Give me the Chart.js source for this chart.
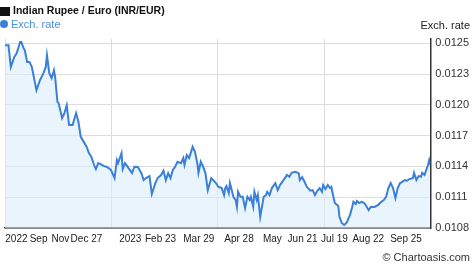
<!DOCTYPE html>
<html>
<head>
<meta charset="utf-8">
<script src="https://cdn.jsdelivr.net/npm/chart.js@4.4.1/dist/chart.umd.min.js"></script>
<style>
    html, body { margin: 0; padding: 0; background: #fff; }
    #wrap { width: 474px; height: 269px; position: relative; }
</style>
</head>
<body>
<div id="wrap"><canvas id="rateChart"></canvas></div>
<script>
// days since start of the period, and the INR/EUR rate on that day
const days = [
    0, 3, 5, 8, 10, 13, 14, 16, 17, 19,
    21, 23, 27, 30, 33, 35, 36, 38, 40, 42,
    43, 45, 46, 49, 51, 53, 55, 58, 61, 63,
    65, 70, 72, 74, 77, 78, 80, 82, 85, 87,
    89, 91, 94, 96, 97, 100, 101, 103, 106, 109,
    111, 114, 117, 119, 121, 124, 126, 129, 131, 134,
    136, 138, 140, 142, 144, 146, 148, 151, 153, 154,
    156, 158, 161, 163, 165, 166, 168, 170, 172, 174,
    177, 181, 183, 186, 188, 189, 190, 192, 193, 196,
    198, 199, 200, 202, 204, 206, 208, 210, 211, 213,
    214, 216, 217, 219, 222, 224, 225, 227, 229, 232,
    234, 236, 239, 242, 244, 246, 249, 252, 253, 255,
    257, 259, 262, 264, 266, 268, 270, 272, 273, 275,
    277, 279, 280, 283, 286, 287, 289, 291, 293, 296,
    298, 299, 301, 302, 304, 306, 308, 310, 312, 314,
    317, 320, 323, 325, 327, 329, 331, 333, 335, 337,
    339, 341, 343, 345, 347, 350, 351, 353, 355, 357,
    358, 360, 362, 363, 364, 365
];
const rates = [
    0.012521, 0.012521, 0.012317, 0.012411, 0.012446, 0.012552, 0.012552, 0.012493, 0.012474, 0.012364,
    0.012364, 0.012317, 0.012098, 0.012192, 0.012258, 0.012317, 0.012427, 0.012258, 0.012211, 0.012286,
    0.012223, 0.011988, 0.011976, 0.011835, 0.011882, 0.011957, 0.011769, 0.011769, 0.011882, 0.011800,
    0.011659, 0.011565, 0.011505, 0.011471, 0.011377, 0.011355, 0.011411, 0.011402, 0.011383, 0.011377,
    0.011364, 0.011346, 0.011270, 0.011440, 0.011411, 0.011505, 0.011355, 0.011411, 0.011364, 0.011317,
    0.011377, 0.011374, 0.011317, 0.011251, 0.011270, 0.011289, 0.011120, 0.011223, 0.011270, 0.011299,
    0.011339, 0.011251, 0.011317, 0.011270, 0.011346, 0.011377, 0.011424, 0.011411, 0.011458, 0.011393,
    0.011487, 0.011458, 0.011565, 0.011518, 0.011411, 0.011320, 0.011424, 0.011377, 0.011317, 0.011157,
    0.011270, 0.011223, 0.011188, 0.011176, 0.011110, 0.011176, 0.011195, 0.011129, 0.011223, 0.011094,
    0.011063, 0.011000, 0.011141, 0.011094, 0.011094, 0.010988, 0.011094, 0.011063, 0.011094, 0.011000,
    0.011141, 0.011063, 0.011110, 0.010906, 0.011094, 0.011110, 0.011141, 0.011110, 0.011176, 0.011223,
    0.011157, 0.011204, 0.011251, 0.011299, 0.011283, 0.011320, 0.011330, 0.011317, 0.011251, 0.011280,
    0.011235, 0.011188, 0.011151, 0.011157, 0.011110, 0.011151, 0.011176, 0.011141, 0.011204, 0.011167,
    0.011204, 0.011176, 0.011186, 0.011035, 0.011007, 0.010906, 0.010847, 0.010828, 0.010847, 0.010922,
    0.011000, 0.011047, 0.011026, 0.011054, 0.011035, 0.011047, 0.011038, 0.011007, 0.010969, 0.011000,
    0.010998, 0.011016, 0.011047, 0.011063, 0.011094, 0.011176, 0.011223, 0.011176, 0.011082, 0.011176,
    0.011223, 0.011235, 0.011251, 0.011245, 0.011261, 0.011270, 0.011320, 0.011251, 0.011289, 0.011283,
    0.011320, 0.011299, 0.011364, 0.011393, 0.011440, 0.011393
];

// x axis: label positions (in days) and their text, plus the quarter grid lines
const xTickDays = [9.8, 28.8, 47.6, 69.9, 107.5, 133.5, 166.3, 200.8, 229.4, 255.4, 282.7, 311.7, 344.1];
const xTickLabels = ['2022', 'Sep', 'Nov', 'Dec 27', '2023', 'Feb 23', 'Mar 29', 'Apr 28', 'May', 'Jun 21', 'Jul 19', 'Aug 22', 'Sep 25'];
const xGridDays = [0, 91.25, 182.5, 273.75];

// y axis ticks
const yTicks = [0.0108, 0.01109, 0.01138, 0.01167, 0.01196, 0.01225, 0.01254];
const yTickLabels = ['0.0108', '0.0111', '0.0114', '0.0117', '0.0120', '0.0123', '0.0125'];

const titleText = 'Indian Rupee / Euro (INR/EUR)';
const seriesName = 'Exch. rate';
const creditText = '\u00A9 Chartoasis.com';

const lineBlue = '#3a80d8';
const fontFamily = "'Liberation Sans', Arial, sans-serif";

Chart.defaults.font.family = fontFamily;
Chart.defaults.font.size = 11;
Chart.defaults.color = '#222';

// header (legend-like lines), axis caption and credit
const headerPlugin = {
    id: 'header',
    afterDraw(chart) {
        const ctx = chart.ctx;
        ctx.save();
        ctx.textBaseline = 'middle';

        ctx.fillStyle = '#111';
        ctx.fillRect(0, 7, 10, 9);
        ctx.font = 'bold 10.5px ' + fontFamily;
        ctx.textAlign = 'left';
        ctx.fillText(titleText, 13, 11.5);

        ctx.fillStyle = lineBlue;
        ctx.beginPath();
        ctx.arc(4, 24, 4, 0, Math.PI * 2);
        ctx.fill();
        ctx.font = '11px ' + fontFamily;
        ctx.fillStyle = '#4a8fdc';
        ctx.fillText(seriesName, 11, 24.5);

        ctx.fillStyle = '#222';
        ctx.textAlign = 'right';
        ctx.fillText(seriesName, 470, 26);
        ctx.fillStyle = '#333';
        ctx.fillText(creditText, 470, 258);
        ctx.restore();
    }
};

const ctx = document.getElementById('rateChart').getContext('2d');
const rateChart = new Chart(ctx, {
    type: 'line',
    data: {
        datasets: [{
            label: seriesName,
            data: days.map((d, i) => ({ x: d, y: rates[i] })),
            borderColor: lineBlue,
            backgroundColor: 'rgba(218, 236, 252, 0.6)',
            borderWidth: 2,
            fill: 'start',
            tension: 0,
            pointRadius: 0
        }]
    },
    options: {
        responsive: true,
        maintainAspectRatio: false,
        animation: false,
        layout: { padding: { left: 0, right: 0, top: 39, bottom: 19 } },
        plugins: {
            legend: { display: false },
            tooltip: { enabled: false }
        },
        scales: {
            x: {
                type: 'linear',
                min: 0,
                max: 365,
                afterBuildTicks: function (scale) {
                    const all = xGridDays.concat(xTickDays).sort((a, b) => a - b);
                    scale.ticks = all.map(v => ({ value: v }));
                },
                ticks: {
                    autoSkip: false,
                    maxRotation: 0,
                    padding: 5,
                    color: '#222',
                    font: { size: 10 },
                    callback: function (value) {
                        const i = xTickDays.indexOf(value);
                        return i >= 0 ? xTickLabels[i] : '';
                    }
                },
                grid: {
                    drawTicks: false,
                    color: function (c) {
                        return c.tick && xGridDays.includes(c.tick.value) ? '#dcdcdc' : 'rgba(0,0,0,0)';
                    }
                },
                border: { color: '#333', width: 1.5 }
            },
            y: {
                position: 'right',
                min: 0.0108,
                max: 0.01258,
                afterBuildTicks: function (scale) {
                    scale.ticks = yTicks.map(v => ({ value: v }));
                },
                ticks: {
                    padding: 5,
                    color: '#333',
                    callback: function (value, index) { return yTickLabels[index]; }
                },
                grid: {
                    drawTicks: false,
                    color: '#dcdcdc'
                },
                border: { color: '#333', width: 1.5 }
            }
        }
    },
    plugins: [headerPlugin]
});
</script>
</body>
</html>
